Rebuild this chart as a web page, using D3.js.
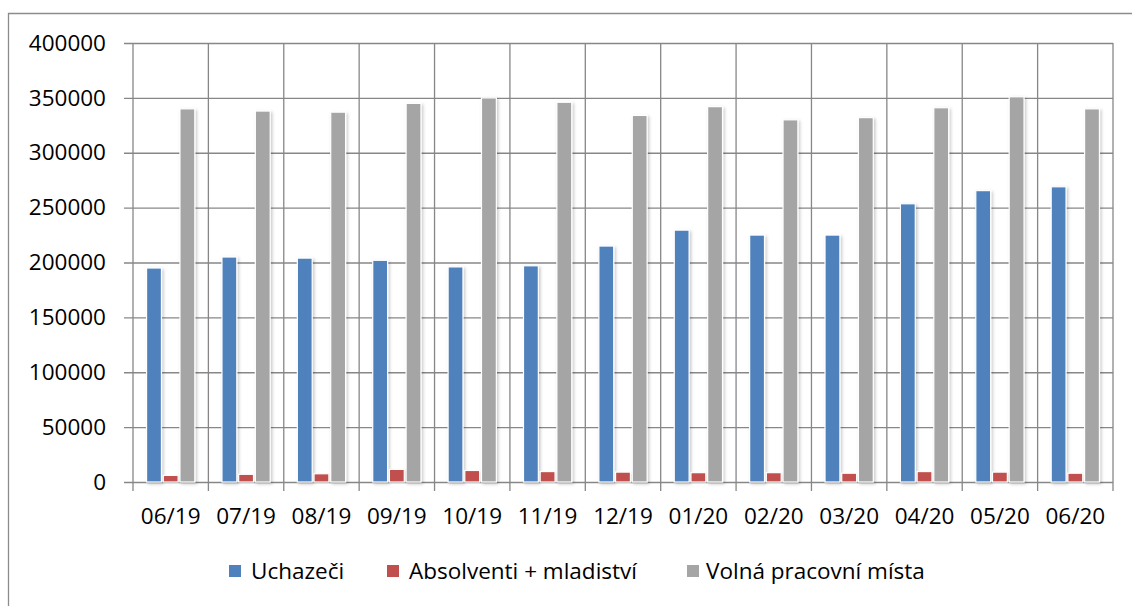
<!DOCTYPE html>
<html>
<head>
<meta charset="utf-8">
<script src="https://cdn.jsdelivr.net/npm/d3@7"></script>
<style>
  body { margin: 0; background: #fff; }
  svg { display: block; }
  text { font-family: "Open Sans", sans-serif; fill: #000; }
</style>
</head>
<body>
<svg width="1132" height="606"></svg>
<script>
var categories = ['06/19', '07/19', '08/19', '09/19', '10/19', '11/19', '12/19',
                  '01/20', '02/20', '03/20', '04/20', '05/20', '06/20'];
var seriesNames = ['Uchazeči', 'Absolventi + mladiství', 'Volná pracovní místa'];
var uchazeci = [195000, 205000, 204000, 202000, 196000, 197000, 215000,
                229500, 225000, 225000, 253500, 265500, 269000];
var absolventi = [6000, 7000, 7500, 11500, 10500, 9500, 9000,
                  8500, 8500, 8000, 9500, 9000, 8000];
var volnaMista = [340000, 338000, 337000, 345000, 350000, 346000, 334000,
                  342000, 330000, 332000, 341000, 351000, 340000];
var yTicks = [0, 50000, 100000, 150000, 200000, 250000, 300000, 350000, 400000];
var colors = ['#4f81bd', '#c0504d', '#a5a5a5'];

var svg = d3.select('svg');
var gridColor = '#878787';

// plot box (window.top is reserved, so use own names)
var plotLeft = 133, plotRight = 1113, plotTop = 43, plotBottom = 482;

var x0 = d3.scaleBand().domain(categories).range([plotLeft, plotRight]);
var x1 = d3.scaleBand().domain(seriesNames)
  .range([x0.bandwidth() * 0.18, x0.bandwidth() * 0.82])
  .paddingInner(0.11);
var y = d3.scaleLinear().domain([0, 400000]).range([plotBottom, plotTop]);

// outer frame (only left and top edge visible)
svg.append('path')
  .attr('d', 'M8.5,606 V13.5 H1132')
  .attr('fill', 'none').attr('stroke', '#8c8c8c').attr('stroke-width', 1.3);

// shadow for bars
var defs = svg.append('defs');
var f = defs.append('filter').attr('id', 'shadow')
  .attr('x', '-50%').attr('y', '-5%').attr('width', '200%').attr('height', '110%');
f.append('feDropShadow').attr('dx', 1.5).attr('dy', 1.5).attr('stdDeviation', 1.6)
  .attr('flood-color', '#000').attr('flood-opacity', 0.22);

// horizontal grid + y labels
var plotW = plotRight - plotLeft;
var yAxis = d3.axisLeft(y).tickValues(yTicks)
  .tickSize(plotW + 9).tickPadding(18).tickFormat(d3.format('d'));
var gy = svg.append('g').attr('transform', 'translate(' + plotLeft + ',0)')
  .call(yAxis);
gy.select('.domain').remove();
gy.selectAll('.tick line').attr('stroke', gridColor).attr('stroke-width', 1.3)
  .attr('x1', plotW).attr('x2', -9);
gy.selectAll('.tick text').attr('x', -27)
  .style('font-size', '22.5px').style('font-family', '"Open Sans", sans-serif')
  .attr('fill', '#000');

// vertical grid at category boundaries
var bounds = categories.map(function (c) { return x0(c); }).concat([plotRight]);
svg.append('g').selectAll('line').data(bounds).enter().append('line')
  .attr('x1', function (d) { return d; }).attr('x2', function (d) { return d; })
  .attr('y1', plotTop).attr('y2', plotBottom + 9)
  .attr('stroke', gridColor).attr('stroke-width', 1.3);

// x labels
var xAxis = d3.axisBottom(x0).tickSize(0).tickPadding(26);
var gx = svg.append('g').attr('transform', 'translate(0,' + plotBottom + ')').call(xAxis);
gx.select('.domain').remove();
gx.selectAll('.tick text').style('font-size', '22.5px')
  .style('font-family', '"Open Sans", sans-serif').attr('fill', '#000');

// bars
var values = [uchazeci, absolventi, volnaMista];
var rows = categories.map(function (c, i) {
  return {cat: c, vals: seriesNames.map(function (s, k) { return {key: s, k: k, v: values[k][i]}; })};
});

var groups = svg.append('g').selectAll('g').data(rows).enter().append('g')
  .attr('transform', function (d) { return 'translate(' + x0(d.cat) + ',0)'; });

groups.selectAll('rect').data(function (d) { return d.vals; }).enter().append('rect')
  .attr('x', function (d) { return x1(d.key); })
  .attr('y', function (d) { return y(d.v); })
  .attr('width', x1.bandwidth())
  .attr('height', function (d) { return y(0) - y(d.v); })
  .attr('fill', function (d) { return colors[d.k]; })
  .attr('stroke', '#fff').attr('stroke-width', 1.2)
  .attr('filter', 'url(#shadow)');

// legend
var legendX = [229, 387, 687];
var legend = svg.append('g').selectAll('g').data(seriesNames).enter().append('g')
  .attr('transform', function (d, i) { return 'translate(' + legendX[i] + ',' + 571 + ')'; });
legend.append('rect').attr('x', 0).attr('y', -6).attr('width', 12).attr('height', 12)
  .attr('fill', function (d, i) { return colors[i]; });
legend.append('text').attr('x', function (d, i) { return i === 2 ? 19 : 22; })
  .attr('y', 0).attr('dy', '0.35em')
  .style('font-size', '22.5px')
  .text(function (d) { return d; });
</script>
</body>
</html>
